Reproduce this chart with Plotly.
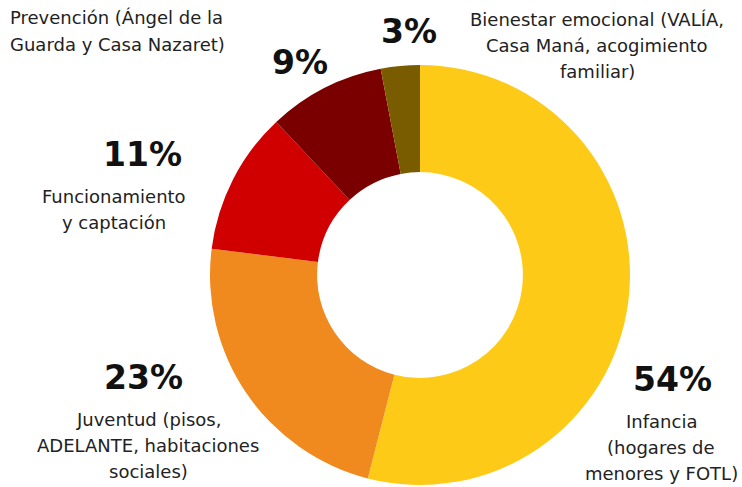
import plotly.graph_objects as go

categories = ["Infancia", "Juventud", "Funcionamiento", "Prevención", "Bienestar emocional"]
values = [54, 23, 11, 9, 3]
colors = ["#FDCB17", "#F0891E", "#D00000", "#7A0000", "#7A5C00"]
label_lines = [
    ["Infancia", "(hogares de", "menores y FOTL)"],
    ["Juventud (pisos,", "ADELANTE, habitaciones", "sociales)"],
    ["Funcionamiento", "y captación"],
    ["Prevención (Ángel de la", "Guarda y Casa Nazaret)"],
    ["Bienestar emocional (VALÍA,", "Casa Maná, acogimiento", "familiar)"],
]
pct_texts = [f"{v}%" for v in values]

W, H = 742, 487
cx, cy, r = 420, 275, 210

fig = go.Figure(go.Pie(
    labels=categories, values=values, sort=False, direction="clockwise", rotation=0,
    hole=0.49, marker=dict(colors=colors, line=dict(width=0)),
    textinfo="none", hoverinfo="label+percent", showlegend=False,
    domain=dict(x=[(cx - r) / W, (cx + r) / W], y=[(H - cy - r) / H, (H - cy + r) / H]),
))

# annotation layout (pixels from top-left)
pct_pos = [(672, 379), (143, 377), (142, 154), (300, 62), (409, 32)]
lab_anchor = [(661, 421, "center"), (148, 419, "center"), (114, 197, "center"),
              (8, 18, "left"), (597, 20, "center")]
line_gap = 26

for i in range(len(values)):
    x, y = pct_pos[i]
    fig.add_annotation(x=x / W, y=1 - y / H, xref="paper", yref="paper", text=f"<b>{pct_texts[i]}</b>",
                       showarrow=False, xanchor="center", yanchor="middle",
                       font=dict(family="DejaVu Sans", size=33, color="#111111"))
    lx, ly, al = lab_anchor[i]
    for j, line in enumerate(label_lines[i]):
        fig.add_annotation(x=lx / W, y=1 - (ly + j * line_gap) / H, xref="paper", yref="paper",
                           text=line, showarrow=False, xanchor="left" if al == "left" else "center",
                           yanchor="middle", align=al,
                           font=dict(family="DejaVu Sans", size=18, color="#222222"))

fig.update_layout(width=W, height=H, margin=dict(l=0, r=0, t=0, b=0),
                  paper_bgcolor="white", plot_bgcolor="white")
fig.write_html("out.html", post_script="document.body.style.margin='0';",
               config={"displayModeBar": False})
